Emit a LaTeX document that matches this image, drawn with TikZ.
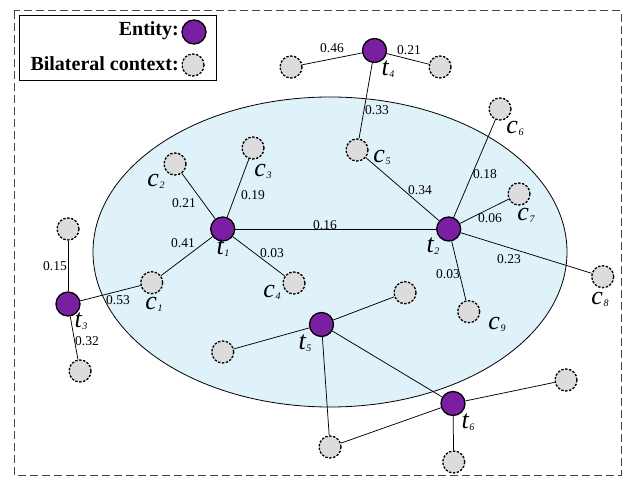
\documentclass[tikz,border=0pt]{standalone}
\usepackage{fontspec}
\setmainfont{Liberation Serif}
\definecolor{entfill}{RGB}{122,30,162}
\definecolor{ctxfill}{RGB}{220,220,220}
\definecolor{ellfill}{RGB}{224,242,249}
\definecolor{framecol}{RGB}{70,70,70}
\newcommand\lbl[2]{{\fontsize{26}{26}\selectfont\itshape #1}\kern0.5pt\raisebox{-2pt}{\fontsize{10}{10}\selectfont\itshape #2}}
\begin{document}
\begin{tikzpicture}[x=1pt,y=-1pt,
  entity/.style={circle,draw=black,line width=1.3pt,fill=entfill,minimum size=24pt,inner sep=0pt},
  ctx/.style={circle,draw=black,line width=1.3pt,dash pattern=on 2.4pt off 1.5pt,fill=ctxfill,minimum size=22pt,inner sep=0pt},
  edge/.style={draw=black,line width=0.75pt},
  num/.style={font=\fontsize{13.5}{13.5}\selectfont,inner sep=0pt},
  tag/.style={inner sep=0pt}]
\useasboundingbox (0,0) rectangle (624,478);
% frame
\draw[framecol,line width=1pt,dash pattern=on 8pt off 4pt] (14,11) rectangle (621,475);
% ellipse
\draw[black,line width=0.8pt,fill=ellfill] (330,252) ellipse [x radius=237, y radius=155];
% legend
\draw[black,line width=0.9pt,fill=white] (19,15) rectangle (216,80);
\node[entity] (le) at (194,32) {};
\node[ctx] (lc) at (193,65) {};
\node[anchor=east,inner sep=0pt,font=\fontsize{20}{20}\selectfont\bfseries] (lte) at (179,31) {Entity:};
\node[anchor=east,inner sep=0pt,font=\fontsize{20}{20}\selectfont\bfseries] (ltc) at (179,64) {Bilateral context:};
% entities
\node[entity] (t1) at (222.7,229) {};
\node[entity] (t2) at (448.7,229) {};
\node[entity] (t3) at (68,304) {};
\node[entity] (t4) at (374.5,50.5) {};
\node[entity] (t5) at (321.5,324.5) {};
\node[entity] (t6) at (453,403.5) {};
% contexts
\node[ctx] (c1) at (151.7,282.7) {};
\node[ctx] (c2) at (175,164) {};
\node[ctx] (c3) at (253,148) {};
\node[ctx] (c4) at (294,283) {};
\node[ctx] (c5) at (357,150) {};
\node[ctx] (c6) at (500,109) {};
\node[ctx] (c7) at (519,194) {};
\node[ctx] (c8) at (602.7,276.7) {};
\node[ctx] (c9) at (468.7,311.7) {};
\node[ctx] (a1) at (291,67) {};
\node[ctx] (a2) at (440,67) {};
\node[ctx] (a3) at (68,229) {};
\node[ctx] (a4) at (80,371) {};
\node[ctx] (a5) at (405,292.7) {};
\node[ctx] (a6) at (222.7,352) {};
\node[ctx] (a7) at (330,447) {};
\node[ctx] (a8) at (566,380) {};
\node[ctx] (a9) at (453.7,462) {};
% edges
\path[edge] (t4) -- (a1);
\path[edge] (t4) -- (a2);
\path[edge] (t4) -- (c5);
\path[edge] (c5) -- (t2);
\path[edge] (c6) -- (t2);
\path[edge] (c7) -- (t2);
\path[edge] (c8) -- (t2);
\path[edge] (c9) -- (t2);
\path[edge] (t1) -- (t2);
\path[edge] (t1) -- (c2);
\path[edge] (t1) -- (c3);
\path[edge] (t1) -- (c1);
\path[edge] (t1) -- (c4);
\path[edge] (t3) -- (c1);
\path[edge] (t3) -- (a3);
\path[edge] (t3) -- (a4);
\path[edge] (t5) -- (a5);
\path[edge] (t5) -- (a6);
\path[edge] (t5) -- (a7);
\path[edge] (t5) -- (t6);
\path[edge] (t6) -- (a8);
\path[edge] (t6) -- (a7);
\path[edge] (t6) -- (a9);
% weights
\node[num] (w1) at (332,48) {0.46};
\node[num] (w2) at (409,50) {0.21};
\node[num] (w3) at (377,110) {0.33};
\node[num] (w4) at (420,190) {0.34};
\node[num] (w5) at (485,174) {0.18};
\node[num] (w6) at (490,218) {0.06};
\node[num] (w7) at (509,259) {0.23};
\node[num] (w8) at (448,274) {0.03};
\node[num] (w9) at (325,225) {0.16};
\node[num] (w10) at (184,203) {0.21};
\node[num] (w11) at (253,195) {0.19};
\node[num] (w12) at (183,243) {0.41};
\node[num] (w13) at (272,253) {0.03};
\node[num] (w14) at (118,300) {0.53};
\node[num] (w15) at (55,266) {0.15};
\node[num] (w16) at (87,341) {0.32};
% labels
\node[tag] (l1) at (154,304) {\lbl{c}{1}};
\node[tag] (l2) at (156,181) {\lbl{c}{2}};
\node[tag] (l3) at (263,171) {\lbl{c}{3}};
\node[tag] (l4) at (272,292) {\lbl{c}{4}};
\node[tag] (l5) at (382,157) {\lbl{c}{5}};
\node[tag] (l6) at (515,128) {\lbl{c}{6}};
\node[tag] (l7) at (526,215) {\lbl{c}{7}};
\node[tag] (l8) at (600,299) {\lbl{c}{8}};
\node[tag] (l9) at (497,324) {\lbl{c}{9}};
\node[tag] (lt1) at (223,248) {\lbl{t}{1}};
\node[tag] (lt2) at (433,246) {\lbl{t}{2}};
\node[tag] (lt3) at (81,321) {\lbl{t}{3}};
\node[tag] (lt4) at (388,69) {\lbl{t}{4}};
\node[tag] (lt5) at (305,343) {\lbl{t}{5}};
\node[tag] (lt6) at (468,422) {\lbl{t}{6}};
\end{tikzpicture}
\end{document}
